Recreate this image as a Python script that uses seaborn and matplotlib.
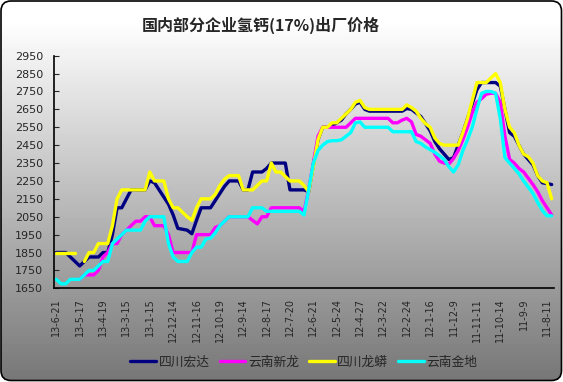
import numpy as np
import pandas as pd
import matplotlib.pyplot as plt
from matplotlib.lines import Line2D
from matplotlib.patches import FancyBboxPatch
import seaborn as sns

# 数据 (从左到右: 最新 -> 最早, 每周一个点)
companies = ["四川宏达", "云南新龙", "四川龙蟒", "云南金地"]
colors = ["#000080", "#FF00FF", "#FFFF00", "#00FFFF"]

date_labels = ["13-6-21", "13-5-17", "13-4-19", "13-3-15", "13-1-15", "12-12-14",
               "12-11-16", "12-10-19", "12-9-14", "12-8-17", "12-7-20", "12-6-21",
               "12-5-24", "12-4-27", "12-3-22", "12-2-24", "12-1-16", "11-12-9",
               "11-11-11", "11-10-14", "11-9-9", "11-8-11"]
nan = np.nan

hongda = [1850, 1850, 1850, 1825, 1800, 1775, 1800, 1825, 1825, 1825,
          1850, 1850, 1950, 2100, 2100, 2150, 2200, 2200, 2200, 2200,
          2250, 2240, 2200, 2160, 2120, 2060, 1985, 1980, 1975, 1955,
          2030, 2100, 2100, 2100, 2140, 2180, 2220, 2250, 2250, 2250,
          2200, 2200, 2300, 2300, 2300, 2320, 2350, 2350, 2350, 2350,
          2200, 2200, 2200, 2200, 2190, 2340, 2480, 2550, 2550, 2560,
          2575, 2590, 2625, 2650, 2680, 2690, 2650, 2640, 2640, 2640,
          2640, 2640, 2640, 2640, 2640, 2655, 2650, 2630, 2610, 2570,
          2530, 2470, 2430, 2400, 2370, 2380, 2450, 2520, 2600, 2680,
          2760, 2800, 2800, 2800, 2800, 2780, 2650, 2520, 2500, 2450,
          2400, 2370, 2340, 2280, 2240, 2235, 2230]

xinlong = [nan, nan, nan, nan, nan, 1700, 1725, 1725, 1725, 1750,
           1825, 1850, 1900, 1900, 1950, 1975, 2000, 2025, 2025, 2050,
           2050, 2000, 2000, 2000, 1950, 1850, 1850, 1850, 1850, 1850,
           1950, 1950, 1950, 1950, 1990, 2000, 2025, 2050, 2050, 2050,
           2050, 2050, 2030, 2010, 2050, 2050, 2100, 2100, 2100, 2100,
           2100, 2100, 2100, 2080, 2200, 2350, 2500, 2550, 2550, 2550,
           2550, 2550, 2550, 2575, 2600, 2600, 2600, 2600, 2600, 2600,
           2600, 2600, 2575, 2575, 2590, 2600, 2580, 2510, 2500, 2480,
           2460, 2400, 2360, 2350, 2345, 2375, 2420, 2480, 2550, 2630,
           2690, 2710, 2735, 2740, 2740, 2690, 2500, 2370, 2350, 2320,
           2300, 2265, 2230, 2190, 2140, 2100, 2060]

longmang = [1850, 1850, 1850, 1850, 1850, nan, 1800, 1850, 1850, 1900,
            1900, 1900, 2000, 2150, 2200, 2200, 2200, 2200, 2200, 2200,
            2300, 2250, 2250, 2250, 2150, 2100, 2100, 2075, 2050, 2030,
            2100, 2150, 2150, 2150, 2175, 2225, 2260, 2280, 2280, 2280,
            2200, 2200, 2200, 2225, 2250, 2250, 2350, 2300, 2300, 2275,
            2250, 2250, 2250, 2225, 2190, 2330, 2480, 2550, 2550, 2575,
            2575, 2600, 2625, 2650, 2690, 2700, 2660, 2650, 2650, 2650,
            2650, 2650, 2650, 2650, 2650, 2675, 2660, 2640, 2600, 2570,
            2550, 2490, 2460, 2450, 2450, 2450, 2450, 2520, 2600, 2700,
            2800, 2800, 2800, 2825, 2850, 2800, 2650, 2550, 2520, 2450,
            2400, 2385, 2350, 2280, 2250, 2240, 2150]

jindi = [1700, 1675, 1675, 1700, 1700, 1700, 1725, 1750, 1750, 1775,
         1800, 1800, 1900, 1925, 1950, 1975, 1975, 1975, 1975, 2025,
         2050, 2050, 2050, 2050, 1900, 1825, 1800, 1800, 1800, 1850,
         1880, 1880, 1925, 1930, 1960, 2000, 2025, 2050, 2050, 2050,
         2050, 2050, 2100, 2100, 2100, 2080, 2080, 2080, 2080, 2080,
         2080, 2080, 2080, 2060, 2200, 2350, 2420, 2450, 2470, 2475,
         2475, 2480, 2500, 2520, 2575, 2580, 2550, 2550, 2550, 2550,
         2550, 2550, 2525, 2525, 2525, 2525, 2525, 2470, 2460, 2440,
         2425, 2410, 2390, 2370, 2330, 2300, 2340, 2420, 2480, 2550,
         2650, 2740, 2750, 2750, 2740, 2600, 2380, 2350, 2320, 2290,
         2250, 2215, 2180, 2130, 2085, 2055, 2055]

yticks = list(range(1650, 3000, 100))

rows = []
for name, vals in zip(companies, [hongda, xinlong, longmang, jindi]):
    vals = np.array(vals, dtype=float)
    seg = np.cumsum(np.isnan(vals))  # 缺失值处断开
    for i, v in enumerate(vals):
        if not np.isnan(v):
            rows.append({"idx": i, "price": v, "company": name, "seg": seg[i]})
df = pd.DataFrame(rows)
n = len(hongda)

sns.set_style("white")
plt.rcParams['font.family'] = ['Noto Sans CJK SC', 'DejaVu Sans']

W, H = 563, 382
fig = plt.figure(figsize=(W / 100, H / 100), dpi=100)
fig.patch.set_facecolor("white")

# 渐变背景 + 圆角边框
bg = fig.add_axes([0, 0, 1, 1], zorder=-10)
yy = np.arange(H)
g = np.clip(255 - (yy - 20) * (255 - 118) / (H - 20), 118, 255) / 255
grad = np.repeat(g[:, None], 2, axis=1)
im = bg.imshow(grad, cmap="gray", vmin=0, vmax=1, extent=[0, W, H, 0], aspect="auto")
box = FancyBboxPatch((1, 1), W - 2.5, H - 2.5, boxstyle="round,pad=0,rounding_size=10",
                     fill=False, edgecolor="black", lw=1.2)
bg.add_patch(box)
im.set_clip_path(box)
bg.set_xlim(0, W)
bg.set_ylim(H, 0)
bg.axis("off")

ax = fig.add_axes([54 / W, 1 - 288.3 / H, 500 / W, 232.6 / H])
ax.patch.set_alpha(0)

sns.lineplot(data=df, x="idx", y="price", hue="company", hue_order=companies,
             palette=colors, units="seg", estimator=None, lw=2.4,
             legend=False, ax=ax)

ax.set_xlim(-0.5, n - 0.5)
ax.set_ylim(1650, 2950)
ax.set_yticks(yticks)
ax.set_yticklabels([str(v) for v in yticks], fontsize=8, family="DejaVu Sans")
ax.set_xticks(np.arange(0, n, 5)[:len(date_labels)])
ax.set_xticklabels(date_labels, rotation=90, fontsize=7, family="DejaVu Sans")
ax.set_xticks(np.arange(-0.5, n, 1), minor=True)
ax.tick_params(axis="x", which="major", length=0, pad=7)
ax.tick_params(axis="x", which="minor", direction="in", length=3.5, width=0.8)
ax.tick_params(axis="y", direction="in", length=3.5, width=0.8, pad=8, left=True)
ax.set_xlabel("")
ax.set_ylabel("")
sns.despine(ax=ax)
for s in ["left", "bottom"]:
    ax.spines[s].set_color("black")
    ax.spines[s].set_linewidth(1.2)

fig.text(261 / W, 1 - 25 / H, "国内部分企业氢钙(17%)出厂价格", ha="center", va="center",
         fontsize=11.5, fontweight="bold")

handles = [Line2D([0], [0], color=c, lw=2.4) for c in colors]
fig.legend(handles, companies, loc="center", bbox_to_anchor=(304 / W, 1 - 362 / H),
           ncol=4, frameon=False, fontsize=9.2, handlelength=2.0,
           handletextpad=0.2, columnspacing=0.8)

fig.savefig("out.png", dpi=100)
